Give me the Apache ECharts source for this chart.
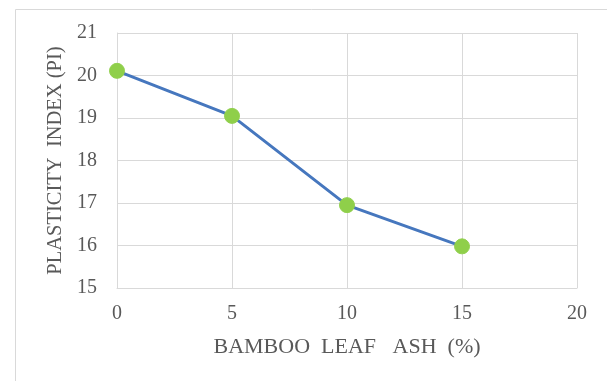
<!DOCTYPE html>
<html>
<head>
<meta charset="utf-8">
<script src="https://cdn.jsdelivr.net/npm/echarts@6/dist/echarts.min.js"></script>
<style>
  html, body { margin: 0; padding: 0; background: #fff; }
  #chart { width: 607px; height: 381px; }
</style>
</head>
<body>
<div id="chart"></div>
<script>
// bamboo leaf ash content (%) and plasticity index
const ashPercent = [0, 5, 10, 15];
const plasticityIndex = [20.11, 19.05, 16.95, 15.98];

const seriesData = ashPercent.map((x, i) => [x, plasticityIndex[i]]);

const font = '"Liberation Serif", "Times New Roman", serif';
const textColor = '#595959';
const gridColor = '#d9d9d9';

const chart = echarts.init(document.getElementById('chart'));
chart.setOption({
    animation: false,
    graphic: [{
        type: 'rect',
        shape: {x: 15.5, y: 9.5, width: 700, height: 500},
        style: {fill: 'none', stroke: gridColor, lineWidth: 1}
    }],
    grid: {left: 117, right: 30, top: 33, bottom: 93},
    xAxis: {
        type: 'value',
        min: 0,
        max: 20,
        interval: 5,
        name: 'BAMBOO  LEAF   ASH  (%)',
        nameLocation: 'middle',
        nameGap: 48,
        nameTextStyle: {fontFamily: font, fontSize: 22, color: textColor},
        axisLine: {show: true, lineStyle: {color: gridColor}},
        axisTick: {show: false},
        axisLabel: {fontFamily: font, fontSize: 20, color: textColor, margin: 16},
        splitLine: {show: true, lineStyle: {color: gridColor}}
    },
    yAxis: {
        type: 'value',
        min: 15,
        max: 21,
        interval: 1,
        name: 'PLASTICITY  INDEX (PI)',
        nameLocation: 'middle',
        nameGap: 50,
        nameTextStyle: {fontFamily: font, fontSize: 20.5, color: textColor},
        axisLine: {show: true, lineStyle: {color: gridColor}},
        axisTick: {show: false},
        axisLabel: {fontFamily: font, fontSize: 20, color: textColor, margin: 20},
        splitLine: {show: true, lineStyle: {color: gridColor}}
    },
    series: [{
        type: 'line',
        data: seriesData,
        symbol: 'circle',
        symbolSize: 15,
        lineStyle: {color: '#4677be', width: 3},
        itemStyle: {color: '#8fcf4a', borderColor: '#92d050', borderWidth: 1}
    }]
});
</script>
</body>
</html>
